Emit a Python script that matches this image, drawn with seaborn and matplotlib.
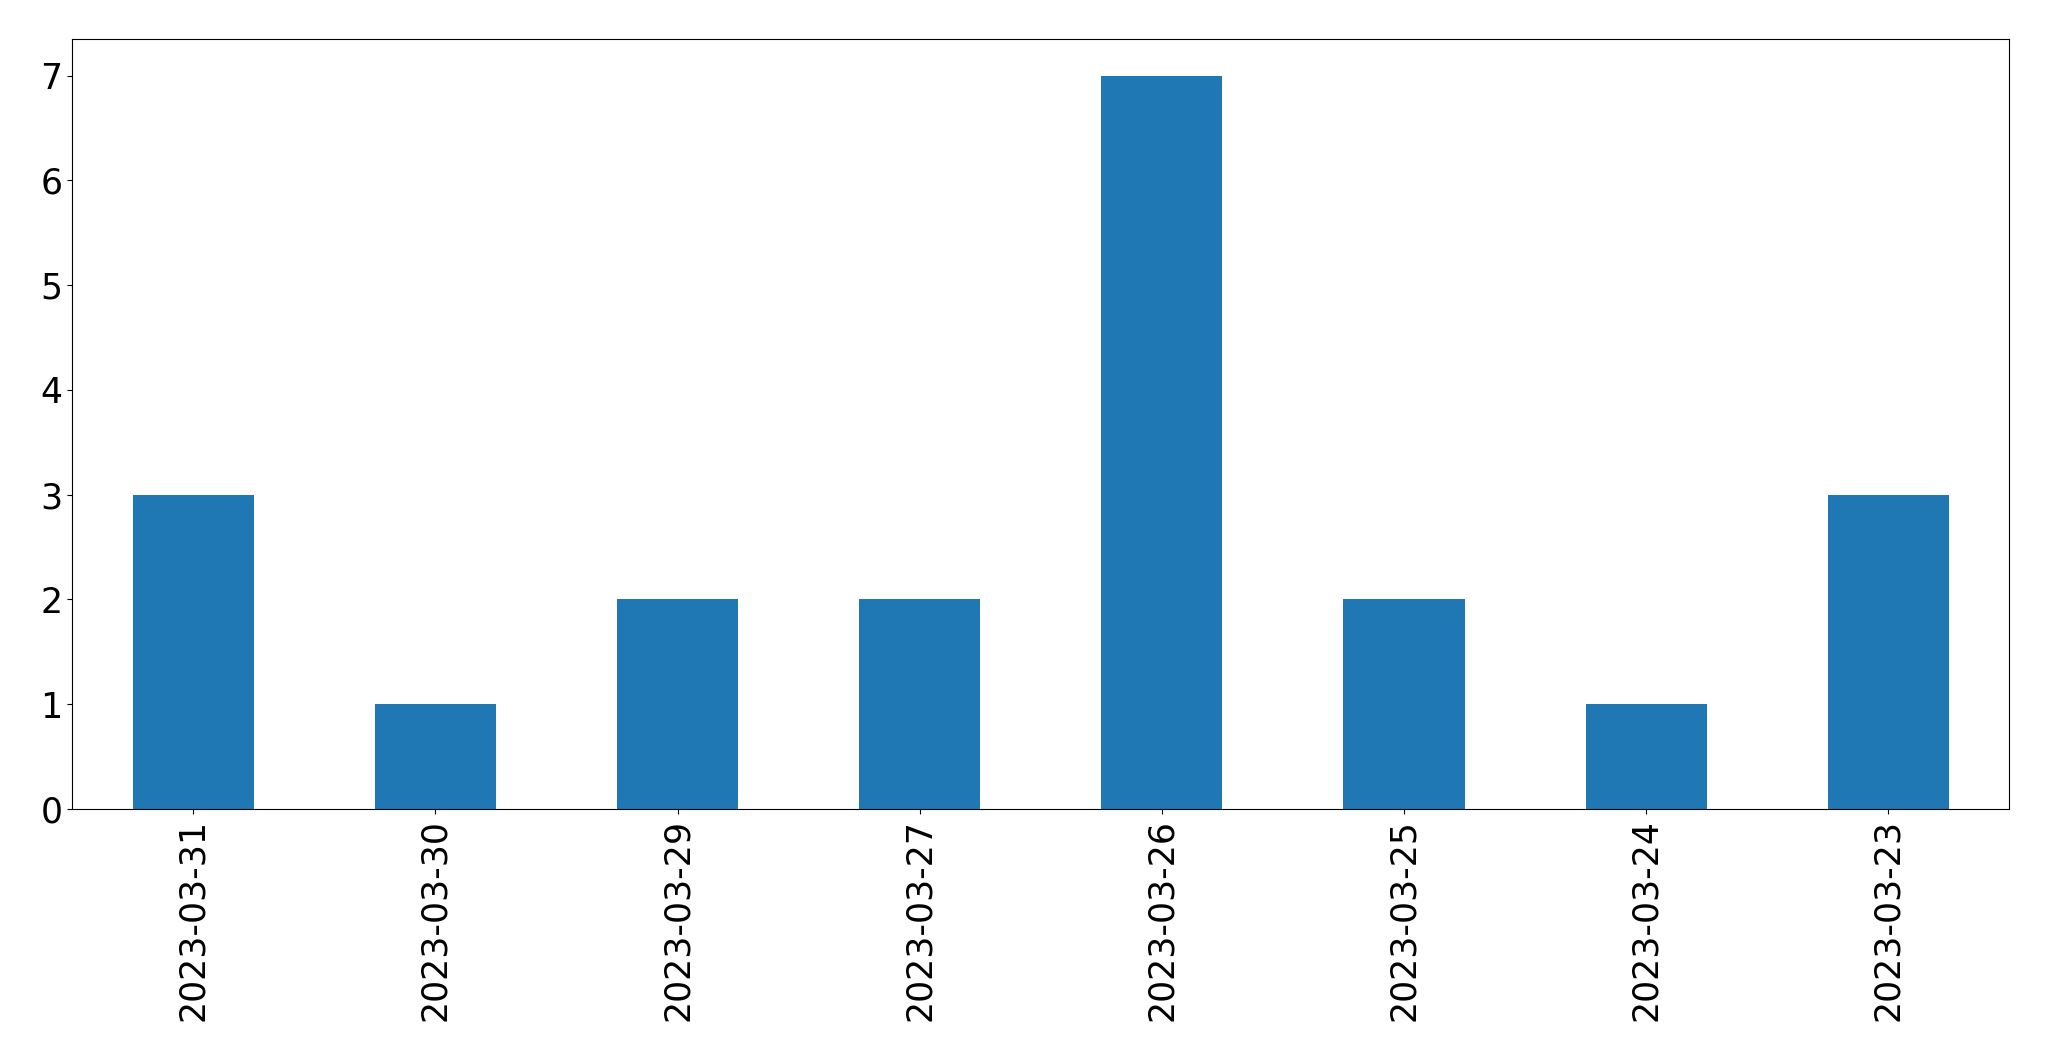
import matplotlib
matplotlib.use("Agg")
import matplotlib.pyplot as plt
import seaborn as sns
import pandas as pd

dates = ["2023-03-31", "2023-03-30", "2023-03-29", "2023-03-27",
         "2023-03-26", "2023-03-25", "2023-03-24", "2023-03-23"]
counts = [3, 1, 2, 2, 7, 2, 1, 3]

df = pd.DataFrame({"date": dates, "count": counts})

fig = plt.figure(figsize=(20.49, 10.61), dpi=100)
ax = fig.add_axes([0.0352, 0.2375, 0.9455, 0.7257])
sns.barplot(data=df, x="date", y="count", order=dates, color="#1f77b4",
            saturation=1, width=0.5, ax=ax)
ax.set_xlim(-0.5, len(dates) - 0.5)
ax.set_ylim(0, 7.35)
ax.set_xlabel("")
ax.set_ylabel("")
ax.tick_params(axis="both", labelsize=25)
plt.setp(ax.get_xticklabels(), rotation=90)
fig.savefig("out.png", dpi=100)
